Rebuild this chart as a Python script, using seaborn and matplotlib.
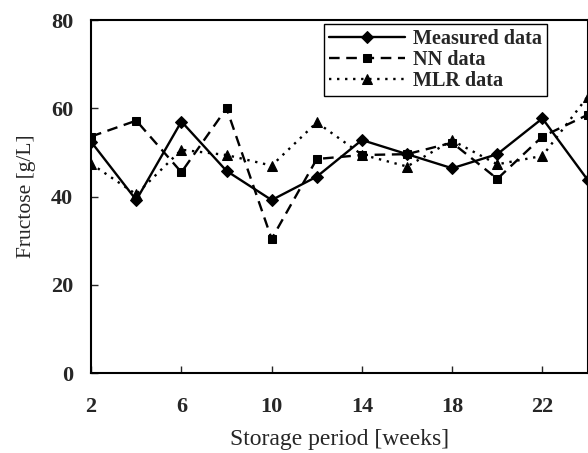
import pandas as pd
import seaborn as sns
import matplotlib.pyplot as plt

weeks = [2, 4, 6, 8, 10, 12, 14, 16, 18, 20, 22, 24]
measured = [52.4, 39.2, 57.0, 45.8, 39.2, 44.5, 52.8, 49.6, 46.4, 49.6, 57.7, 43.8]
nn = [53.6, 57.2, 45.5, 60.0, 30.4, 48.5, 49.4, 49.6, 52.2, 44.0, 53.6, 58.5]
mlr = [47.4, 40.5, 50.6, 49.4, 47.0, 56.8, 49.5, 46.8, 52.7, 47.3, 49.2, 62.6]

x_ticks = [2, 6, 10, 14, 18, 22]
y_ticks = [0, 20, 40, 60, 80]

sns.set_theme(style="ticks")
plt.rcParams["font.family"] = ["Liberation Serif", "DejaVu Serif"]

fig = plt.figure(figsize=(5.88, 4.53), dpi=100)
ax = fig.add_axes([0.155, 0.1766, 0.845, 0.7792])

series = [
    ("Measured data", measured, "D", None, 6),
    ("NN data", nn, "s", (4.5, 2.8), 6),
    ("MLR data", mlr, "^", (1, 2.4), 7),
]
for name, vals, mk, dash, ms in series:
    df = pd.DataFrame({"week": weeks, "value": vals})
    sns.lineplot(data=df, x="week", y="value", ax=ax, color="black",
                 marker=mk, markersize=ms, linewidth=1.7,
                 markeredgecolor="black", label=name)
    if dash is not None:
        ax.get_lines()[-1].set_dashes(dash)

ax.set_xlim(2, 24.02)
ax.set_ylim(0, 80)
ax.set_xticks(x_ticks)
ax.set_yticks(y_ticks)
ax.tick_params(direction="in", length=5, width=1, pad=13, labelsize=16)
ax.tick_params(axis="x", pad=17)
for lab in ax.get_xticklabels() + ax.get_yticklabels():
    lab.set_fontweight("bold")
for sp in ax.spines.values():
    sp.set_visible(True)
    sp.set_color("black")
    sp.set_linewidth(1.5)

ax.set_xlabel("Storage period [weeks]", fontsize=17, labelpad=9)
ax.set_ylabel("Fructose [g/L]", fontsize=15.5, labelpad=11)

handles, labels = ax.get_legend_handles_labels()
leg = ax.legend(handles, labels, loc="upper right", bbox_to_anchor=(0.918, 0.988),
                frameon=True, fancybox=False, framealpha=1, edgecolor="black",
                prop={"size": 14.5, "weight": "bold"}, handlelength=3.8,
                handletextpad=0.4, labelspacing=0.05, borderpad=0.25,
                borderaxespad=0)
leg.get_frame().set_linewidth(1.0)

fig.savefig("out.png", dpi=100)
